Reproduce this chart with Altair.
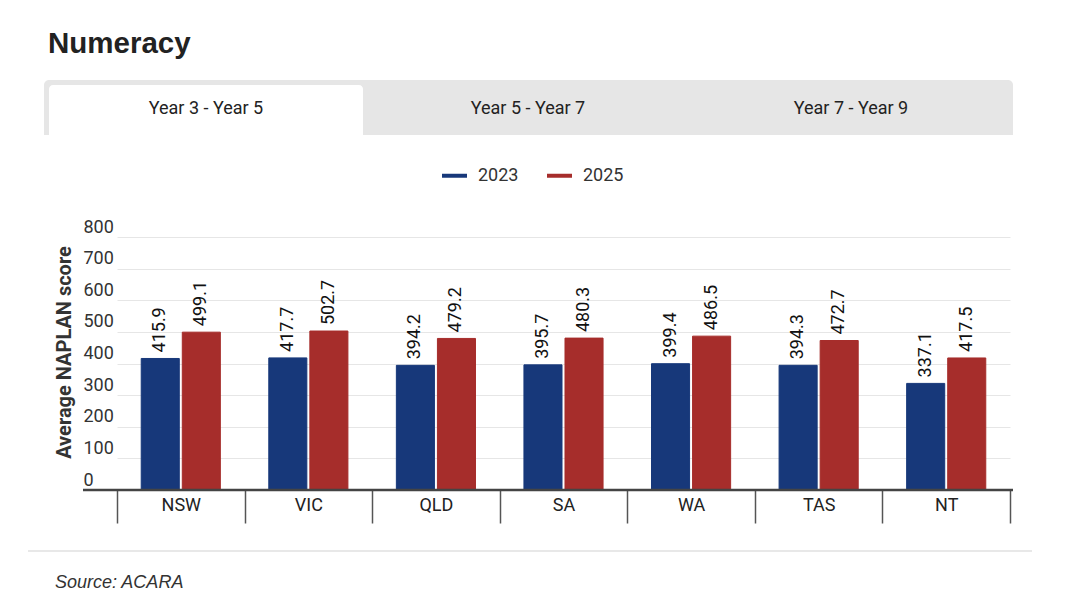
import altair as alt
import pandas as pd

# Average NAPLAN numeracy score by state, Year 3 - Year 5 cohort
STATES = ["NSW", "VIC", "QLD", "SA", "WA", "TAS", "NT"]
YEARS = ["2023", "2025"]
SCORES_2023 = [415.9, 417.7, 394.2, 395.7, 399.4, 394.3, 337.1]
SCORES_2025 = [499.1, 502.7, 479.2, 480.3, 486.5, 472.7, 417.5]
Y_TICKS = [0, 100, 200, 300, 400, 500, 600, 700, 800]
TAB_LABELS = ["Year 3 - Year 5", "Year 5 - Year 7", "Year 7 - Year 9"]

BLUE = "#17387a"
RED = "#a62d2b"
FONT = "Roboto"

rows = []
for state, a, b in zip(STATES, SCORES_2023, SCORES_2025):
    rows.append({"state": state, "year": YEARS[0], "score": a})
    rows.append({"state": state, "year": YEARS[1], "score": b})
df = pd.DataFrame(rows)

W, H = 930, 253

x_enc = alt.X(
    "state:N",
    sort=STATES,
    title=None,
    scale=alt.Scale(range=[34, 927], paddingInner=0, paddingOuter=0),
    axis=alt.Axis(
        domain=False,
        grid=False,
        ticks=True,
        tickBand="extent",
        tickSize=33,
        tickColor="#555555",
        tickWidth=1.5,
        labelAngle=0,
        labelFont=FONT,
        labelFontSize=18,
        labelColor="#222222",
        labelBaseline="top",
        labelPadding=-27,
    ),
)
xoff_enc = alt.XOffset(
    "year:N", sort=YEARS, scale=alt.Scale(paddingInner=0.073, paddingOuter=0.59)
)
y_enc = alt.Y(
    "score:Q",
    scale=alt.Scale(domain=[0, 800], nice=False, zero=True),
    axis=alt.Axis(
        values=Y_TICKS,
        tickCount=len(Y_TICKS) + 2,
        domain=False,
        ticks=False,
        tickSize=0,
        grid=True,
        gridColor="#e6e6e6",
        gridWidth=1,
        labelOverlap=False,
        labelAlign="left",
        labelBaseline="alphabetic",
        labelPadding=0,
        labelOffset=-5,
        labelFont=FONT,
        labelFontSize=18,
        labelColor="#333333",
        title="Average NAPLAN score",
        titleFont=FONT,
        titleFontSize=20,
        titleFontWeight="bold",
        titleColor="#333333",
        titleAngle=270,
        titleAlign="center",
        titleBaseline="middle",
        titleX=-19,
        titleY=115,
    ),
)

color_scale = alt.Scale(domain=YEARS, range=[BLUE, RED])
legend = alt.Legend(
    title=None,
    orient="none",
    direction="horizontal",
    legendX=357,
    legendY=-76,
    symbolType="stroke",
    symbolSize=625,
    symbolStrokeWidth=4,
    labelFont=FONT,
    labelFontSize=18,
    labelColor="#333333",
    labelOffset=9,
    columnPadding=20,
)

bars = (
    alt.Chart(df)
    .mark_bar(strokeWidth=1)
    .encode(
        x=x_enc,
        xOffset=xoff_enc,
        y=y_enc,
        fill=alt.Fill("year:N", scale=color_scale, legend=legend),
        stroke=alt.Stroke("year:N", scale=color_scale, legend=legend),
    )
)

labels = (
    alt.Chart(df)
    .mark_text(
        angle=270,
        align="left",
        baseline="middle",
        dx=6,
        font=FONT,
        fontSize=18,
        color="#111111",
    )
    .encode(
        x=x_enc,
        xOffset=xoff_enc,
        y=y_enc,
        text=alt.Text("score:Q", format=".1f"),
    )
)

# Dark baseline across the full plot width
baseline = (
    alt.Chart(pd.DataFrame({"score": [0]}))
    .mark_rule(color="#444444", strokeWidth=2.5)
    .encode(y=y_enc, x=alt.value(0), x2=alt.value(W))
)

one = pd.DataFrame({"k": [0]})

# Header: title and tab strip
title = (
    alt.Chart(one)
    .mark_text(
        text="Numeracy",
        align="left",
        baseline="alphabetic",
        font="Liberation Sans",
        fontSize=29.5,
        fontWeight="bold",
        color="#222222",
    )
    .encode(x=alt.value(-35), y=alt.value(-184))
)

tab_strip = (
    alt.Chart(one)
    .mark_rect(color="#e6e6e6", cornerRadiusTopLeft=5, cornerRadiusTopRight=5)
    .encode(x=alt.value(-39), x2=alt.value(930), y=alt.value(-157), y2=alt.value(-102))
)
active_tab = (
    alt.Chart(one)
    .mark_rect(color="#ffffff", cornerRadiusTopLeft=4, cornerRadiusTopRight=4)
    .encode(x=alt.value(-34), x2=alt.value(280), y=alt.value(-152), y2=alt.value(-102))
)

tab_texts = []
for label, cx in zip(TAB_LABELS, [123, 445, 768]):
    tab_texts.append(
        alt.Chart(one)
        .mark_text(
            text=label,
            align="center",
            baseline="middle",
            font=FONT,
            fontSize=18,
            color="#222222",
        )
        .encode(x=alt.value(cx), y=alt.value(-128))
    )

# Footer: separator and source note
separator = (
    alt.Chart(one)
    .mark_rule(color="#e0e0e0", strokeWidth=1.5)
    .encode(x=alt.value(-55), x2=alt.value(949), y=alt.value(314))
)
source = (
    alt.Chart(one)
    .mark_text(
        text="Source: ACARA",
        align="left",
        baseline="alphabetic",
        font="Liberation Sans",
        fontSize=18,
        fontStyle="italic",
        color="#333333",
    )
    .encode(x=alt.value(-28), y=alt.value(351))
)

chart = (
    alt.layer(
        tab_strip,
        active_tab,
        *tab_texts,
        title,
        bars,
        labels,
        baseline,
        separator,
        source,
    )
    .properties(
        width=W,
        height=H,
        autosize=alt.AutoSizeParams(type="none"),
        padding={"left": 83, "top": 237, "right": 67, "bottom": 124},
        background="#ffffff",
    )
    .configure_view(stroke=None)
)

chart.save("out.html", embed_options={"renderer": "svg", "actions": False})
